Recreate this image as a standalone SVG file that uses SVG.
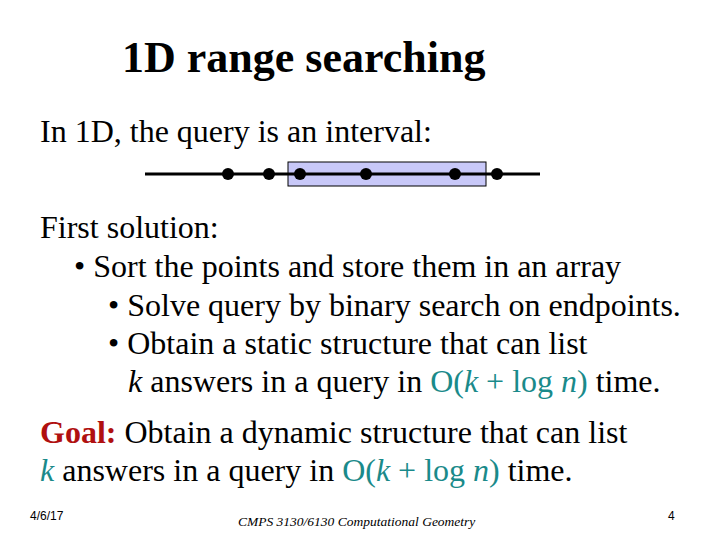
<svg xmlns="http://www.w3.org/2000/svg" width="720" height="540" viewBox="0 0 720 540">
<style>
.c{fill:#1a8a8a}
</style>
<rect width="720" height="540" fill="#fff"/>
<g font-family="Liberation Serif, serif" fill="#000">
<text x="122" y="72" font-size="44" font-weight="bold">1D range searching</text>
<g font-size="32">
<text x="40" y="142">In 1D, the query is an interval:</text>
<text x="40" y="238">First solution:</text>
<text x="74" y="277">• Sort the points and store them in an array</text>
<text x="108" y="316">• Solve query by binary search on endpoints.</text>
<text x="108" y="354">• Obtain a static structure that can list</text>
<text x="128" y="392"><tspan font-style="italic">k</tspan> answers in a query in <tspan class="c">O(<tspan font-style="italic">k</tspan> + log <tspan font-style="italic">n</tspan>)</tspan> time.</text>
<text x="40" y="443"><tspan font-weight="bold" fill="#b01010">Goal:</tspan> Obtain a dynamic structure that can list</text>
<text x="40" y="481"><tspan class="c" font-style="italic">k</tspan> answers in a query in <tspan class="c">O(<tspan font-style="italic">k</tspan> + log <tspan font-style="italic">n</tspan>)</tspan> time.</text>
</g>
<text x="238" y="526" font-size="13.5" font-style="italic">CMPS 3130/6130 Computational Geometry</text>
</g>
<g id="interval">
<rect x="288" y="162" width="198" height="24" fill="#c8c8f8" stroke="#000" stroke-width="1"/>
<line x1="145" y1="174" x2="540" y2="174" stroke="#000" stroke-width="3"/>
<g fill="#000">
<circle cx="228" cy="174" r="6"/><circle cx="269" cy="174" r="6"/><circle cx="300" cy="174" r="6"/>
<circle cx="366" cy="174" r="6"/><circle cx="455" cy="174" r="6"/><circle cx="497" cy="174" r="6"/>
</g>
</g>
<g font-family="Liberation Sans, sans-serif" font-size="12" fill="#000">
<text x="30" y="520">4/6/17</text>
<text x="668" y="520">4</text>
</g>
</svg>
